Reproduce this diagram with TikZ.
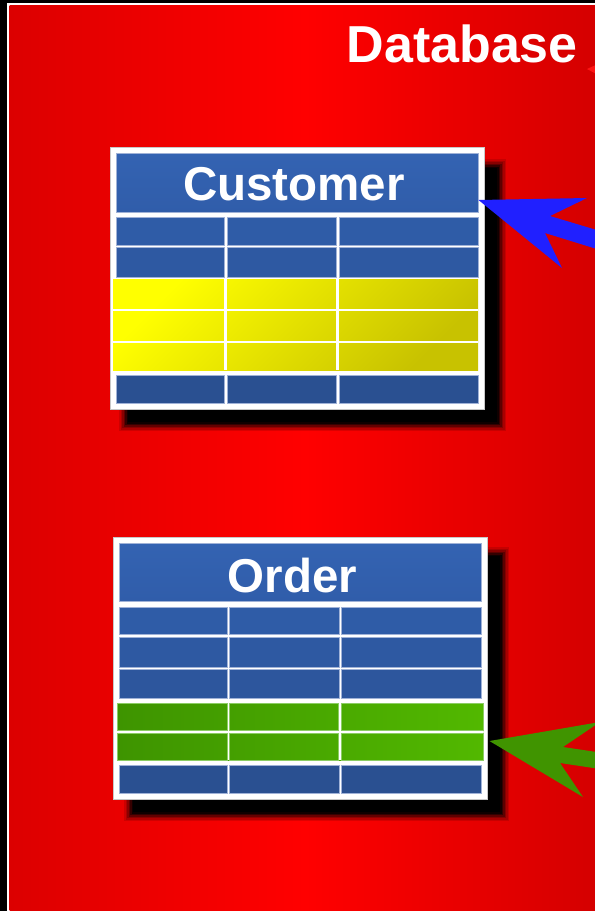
\documentclass[tikz,border=0pt]{standalone}
\usepackage{fontspec}
\setmainfont{Liberation Sans}
\definecolor{bgdark}{RGB}{220,0,0}
\definecolor{bgmid}{RGB}{255,0,0}
\definecolor{bgright}{RGB}{212,0,0}
\definecolor{hdrtop}{RGB}{52,99,178}
\definecolor{hdrbot}{RGB}{48,93,170}
\definecolor{cA}{RGB}{47,92,167}
\definecolor{cB}{RGB}{46,89,162}
\definecolor{cC}{RGB}{45,86,157}
\definecolor{cL}{RGB}{42,80,145}
\definecolor{cellline}{RGB}{160,178,215}
\definecolor{ytl}{RGB}{255,255,0}
\definecolor{ybr}{RGB}{200,194,0}
\definecolor{gl}{RGB}{62,148,0}
\definecolor{gr}{RGB}{82,184,0}
\definecolor{gline}{RGB}{140,205,100}
\definecolor{arrowblue}{RGB}{32,32,255}
\definecolor{arrowgreen}{RGB}{64,148,0}
\definecolor{redtip}{RGB}{255,20,20}
\newcommand\softshadow[4]{%
  \foreach \d/\o in {6/0.12,4.5/0.15,3/0.2,1.5/0.3,0/0.45,-1.5/0.7,-3/1}{%
    \fill[black,opacity=\o] ({#1-\d},{#2-\d}) rectangle ({#3+\d},{#4+\d});
  }}
\begin{document}
\begin{tikzpicture}[x=1bp,y=-1bp,
  tableframe/.style={fill=white,draw={rgb,255:red,200;green,200;blue,200},line width=0.5bp,inner sep=0pt,anchor=north west,minimum width=374bp,minimum height=262bp},
  cellbox/.style={draw=cellline,line width=0.5bp},
  titletext/.style={text=white,font=\fontsize{47.5bp}{47.5bp}\selectfont\bfseries,inner sep=0pt,anchor=base},
  sep/.style={white,line width=2.6bp}]
\useasboundingbox (0,0) rectangle (595,911);
\clip (0,0) rectangle (595,911);
% background
\fill[black] (0,0) rectangle (595,911);
\fill[white] (7,3) rectangle (600,915);
\shade[left color=bgdark, right color=bgright, middle color=bgmid] (9.5,5.5) rectangle (600,915);
\node[anchor=base east,text=white,font=\fontsize{52bp}{52bp}\selectfont\bfseries,inner sep=0pt] (dbtitle) at (578,62) {Database};
\fill[redtip] (587,69) -- (600,63) -- (600,76) -- cycle;

% ---------- Customer table ----------
\softshadow{125}{165}{500}{425}
\node[tableframe] (customer) at (110,147) {};
\shade[top color=hdrtop,bottom color=hdrbot,cellbox] (116,153) rectangle (478,212);
\node[titletext] (custtitle) at (294,200) {Customer};
\foreach \xa/\xb in {116/224,227/336,339/478}{
  \foreach \ya/\yb/\c in {217/245/cA,247/277/cB,375/403/cL}{
    \fill[cellbox,fill=\c] (\xa,\ya) rectangle (\xb,\yb);
  }}
\shade[top color=ytl,bottom color=ybr,shading angle=45] (113,279) rectangle (478,370);
\draw[sep] (225.5,279) -- (225.5,370);
\draw[sep] (337.5,279) -- (337.5,370);
\draw[sep] (113,310) -- (478,310);
\draw[sep] (113,342) -- (478,342);

% ---------- Order table ----------
\softshadow{130}{553}{503}{815}
\node[tableframe] (order) at (113,537) {};
\shade[top color=hdrtop,bottom color=hdrbot,cellbox] (119,543) rectangle (481,601);
\node[titletext] (ordertitle) at (292.5,592) {Order};
\foreach \xa/\xb in {119/227,229/339,341/481}{
  \foreach \ya/\yb/\c in {607/634/cA,637/667/cB,669/698/cC,765/793/cL}{
    \fill[cellbox,fill=\c] (\xa,\ya) rectangle (\xb,\yb);
  }}
\shade[left color=gl,right color=gr] (117,703) rectangle (483,760);
\draw[sep] (228,703) -- (228,760);
\draw[sep] (340,703) -- (340,760);
\draw[sep] (117,731.5) -- (483,731.5);
\foreach \xa/\xb in {117/227,229.3/338.7,341.3/483}{
  \foreach \ya/\yb in {703/730.2,732.8/760}{
    \draw[gline,line width=0.6bp] (\xa,\ya) rectangle (\xb,\yb);
  }}

% ---------- arrows ----------
\coordinate (ctip) at ([xshift=-6bp,yshift=-53bp]customer.north east);
\fill[arrowblue] (ctip) -- (587,198) -- (550,216) -- (600,231) -- (600,250) -- (545,233) -- (562,268) -- cycle;
\coordinate (otip) at ([xshift=2bp,yshift=-204bp]order.north east);
\fill[arrowgreen] (otip) -- (600,722) -- (563,747) -- (600,752.5) -- (600,769) -- (560,763) -- (583,797) -- cycle;
\end{tikzpicture}
\end{document}
